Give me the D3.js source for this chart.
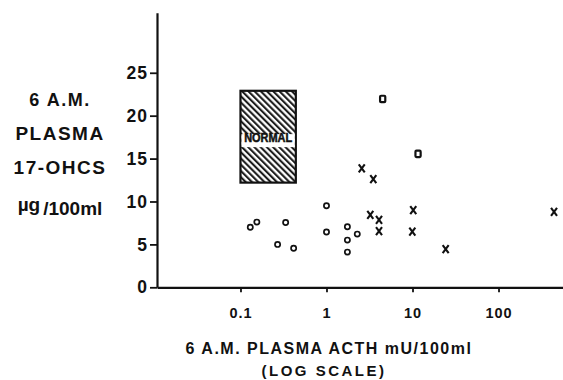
<html>
  <head>
    <script src="https://d3js.org/d3.v7.min.js"></script>
    <style>
      body { margin: 0; background: #fff; }
      text { font-family: "Liberation Sans", Arial, sans-serif; font-weight: bold; fill: #111; }
    </style>
  </head>
  <body>
    <svg width="563" height="380" class="chart"></svg>

    <script>
      // ACTH (mU/100ml) and 17-OHCS (ug/100ml)
      var circleActh = [0.13, 0.155, 0.27, 0.335, 0.415, 1.0, 1.0, 1.75, 1.75, 1.75, 2.28];
      var circleOhcs = [7.0, 7.6, 5.0, 7.55, 4.55, 9.5, 6.45, 7.05, 5.5, 4.1, 6.2];
      var squareActh = [4.5, 11.6];
      var squareOhcs = [21.95, 15.55];
      var crossActh = [2.57, 3.5, 3.23, 4.08, 4.08, 10.2, 9.95, 24.3, 442];
      var crossOhcs = [13.85, 12.6, 8.45, 7.85, 6.55, 9.0, 6.5, 4.45, 8.8];
      var normalActh = [0.1, 0.44];
      var normalOhcs = [12.2, 22.9];
      var xTicks = [0.1, 1, 10, 100];
      var yTicks = [0, 5, 10, 15, 20, 25];

      var svg = d3.select(".chart");
      var ink = "#111";

      var x = d3.scaleLog().domain([0.0107, 562]).range([157, 563]);
      var y = d3.scaleLinear().domain([0, 32]).range([287.3, 12.7]);

      // hatch for the normal range
      var pat = svg.append("defs").append("pattern")
        .attr("id", "hatch")
        .attr("patternUnits", "userSpaceOnUse")
        .attr("width", 4.4).attr("height", 4.4)
        .attr("patternTransform", "rotate(-45)");
      pat.append("rect").attr("width", 4.4).attr("height", 4.4).attr("fill", "#fff");
      pat.append("line").attr("x1", 1.1).attr("x2", 1.1).attr("y1", 0).attr("y2", 4.4)
        .attr("stroke", ink).attr("stroke-width", 2);

      // axes
      var yAxis = svg.append("g")
        .attr("transform", "translate(157,0)")
        .call(d3.axisLeft(y).tickValues(yTicks).tickSize(7).tickSizeOuter(0).tickPadding(2));
      yAxis.selectAll("text").style("font-size", "17.5px").style("letter-spacing", "1px");

      var xAxis = svg.append("g")
        .attr("transform", "translate(0,287.3)")
        .call(d3.axisBottom(x).tickValues(xTicks).tickFormat(function(d) { return String(d); })
          .tickSize(5).tickSizeOuter(0).tickPadding(15));
      xAxis.selectAll("text").style("font-size", "14.5px").style("letter-spacing", "1px");

      svg.selectAll(".domain").attr("stroke", ink).attr("stroke-width", 2.2);
      svg.selectAll(".tick line").attr("stroke", ink).attr("stroke-width", 1.8);
      svg.selectAll(".tick text").attr("fill", ink);

      // normal box
      var bx0 = x(normalActh[0]), bx1 = x(normalActh[1]);
      var by0 = y(normalOhcs[1]), by1 = y(normalOhcs[0]);
      svg.append("rect")
        .attr("x", bx0).attr("y", by0)
        .attr("width", bx1 - bx0).attr("height", by1 - by0)
        .attr("fill", "url(#hatch)").attr("stroke", ink).attr("stroke-width", 2.2);
      svg.append("rect")
        .attr("x", bx0 + 1).attr("y", y(17.85))
        .attr("width", bx1 - bx0 - 2).attr("height", 13)
        .attr("fill", "#fff");
      svg.append("text")
        .attr("x", (bx0 + bx1) / 2).attr("y", y(16.9))
        .attr("text-anchor", "middle")
        .attr("textLength", 48).attr("lengthAdjust", "spacingAndGlyphs")
        .attr("stroke", ink).attr("stroke-width", 0.5)
        .style("font-size", "12px")
        .text("NORMAL");

      // circles
      svg.selectAll(".pt-c").data(d3.range(circleActh.length)).enter().append("circle")
        .attr("cx", function(i) { return x(circleActh[i]); })
        .attr("cy", function(i) { return y(circleOhcs[i]); })
        .attr("r", 2.6)
        .attr("fill", "none").attr("stroke", ink).attr("stroke-width", 1.7);

      // squares
      svg.selectAll(".pt-s").data(d3.range(squareActh.length)).enter().append("rect")
        .attr("x", function(i) { return x(squareActh[i]) - 2.6; })
        .attr("y", function(i) { return y(squareOhcs[i]) - 3.2; })
        .attr("width", 5.2).attr("height", 6.4).attr("rx", 1)
        .attr("fill", "none").attr("stroke", ink).attr("stroke-width", 2.2);

      // crosses
      svg.selectAll(".pt-x").data(d3.range(crossActh.length)).enter().append("path")
        .attr("transform", function(i) { return "translate(" + x(crossActh[i]) + "," + y(crossOhcs[i]) + ")"; })
        .attr("d", "M-3,-4L3,4M3,-4L-3,4")
        .attr("fill", "none").attr("stroke", ink).attr("stroke-width", 2.1);

      // y title
      var yTitle = ["6 A.M.", "PLASMA", "17-OHCS"];
      var yBase = [105.5, 140, 174];
      var ySize = ["18px", "19px", "19px"];
      svg.selectAll(".ytitle").data(yTitle).enter().append("text")
        .attr("x", 60).attr("y", function(d, i) { return yBase[i]; })
        .attr("text-anchor", "middle")
        .style("font-size", function(d, i) { return ySize[i]; })
        .style("letter-spacing", "1.5px")
        .text(function(d) { return d; });
      var unit = svg.append("text").attr("x", 60).attr("y", 215)
        .attr("text-anchor", "middle").style("font-size", "19px");
      unit.append("tspan").attr("dy", -4).text("µg");
      unit.append("tspan").attr("dy", 4).attr("dx", 3).text("/100ml");

      // x title
      svg.append("text").attr("x", 329).attr("y", 354)
        .attr("text-anchor", "middle")
        .style("font-size", "16px").style("letter-spacing", "1.5px")
        .text("6 A.M. PLASMA ACTH mU/100ml");
      svg.append("text").attr("x", 324).attr("y", 376)
        .attr("text-anchor", "middle")
        .style("font-size", "15px").style("letter-spacing", "2.5px")
        .text("(LOG SCALE)");
    </script>
  </body>
</html>
